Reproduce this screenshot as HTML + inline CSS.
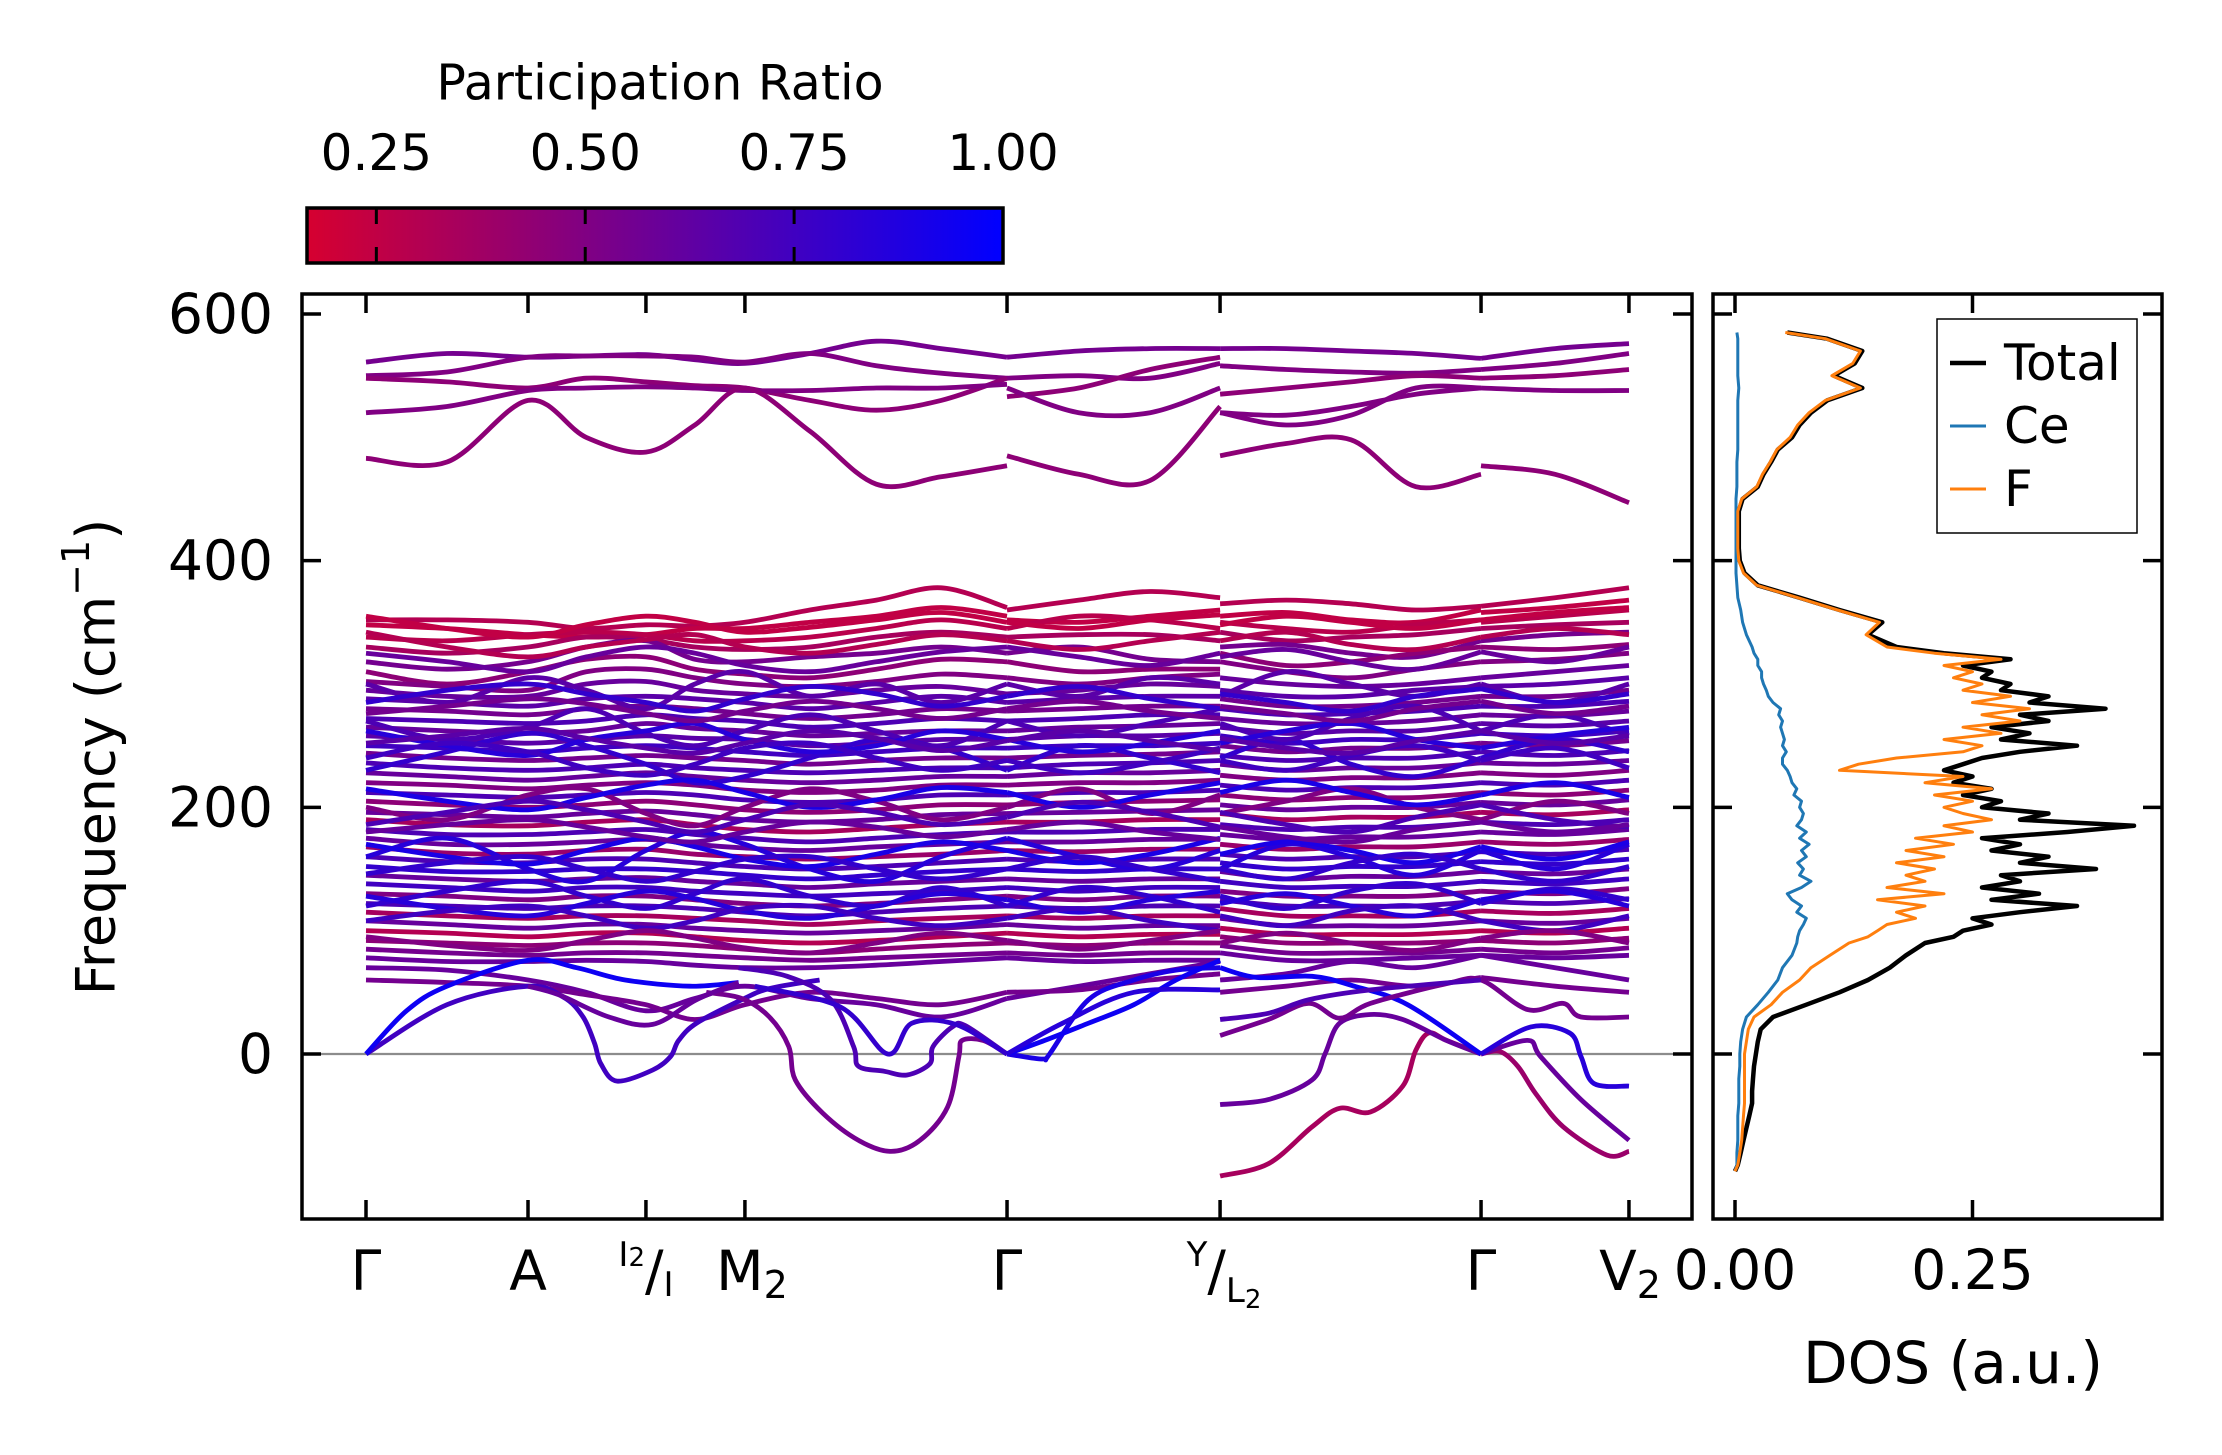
<!DOCTYPE html>
<html><head><meta charset="utf-8">
<style>
html,body{margin:0;padding:0;background:#fff;}
svg{display:block;font-family:"DejaVu Sans","Liberation Sans",sans-serif;}
</style></head>
<body>
<svg id="chart" width="2222" height="1455" viewBox="0 0 2222 1455" xmlns="http://www.w3.org/2000/svg">
<defs>
<linearGradient id="cmap" x1="0" x2="1" y1="0" y2="0">
<stop offset="0" stop-color="rgb(214,0,48)"/><stop offset="1" stop-color="rgb(0,0,255)"/>
</linearGradient>
<clipPath id="clipMain"><rect x="302" y="294" width="1390" height="925"/></clipPath>
<clipPath id="clipDos"><rect x="1713" y="294" width="449" height="925"/></clipPath>
</defs>
<rect x="0" y="0" width="2222" height="1455" fill="#fff"/>
<g id="colorbar">
<text x="660" y="83" font-size="49" text-anchor="middle" dominant-baseline="central">Participation Ratio</text>
<rect x="307" y="208" width="696" height="55" fill="url(#cmap)" stroke="#000" stroke-width="3.5"/>
</g>
<g id="bands" clip-path="url(#clipMain)"></g>
<g id="dos" clip-path="url(#clipDos)"></g>
<g id="axes"></g>
<text transform="translate(96,757) rotate(-90)" font-size="54" text-anchor="middle" dominant-baseline="central">Frequency (cm<tspan dy="-20" font-size="38">−1</tspan><tspan dy="20">)</tspan></text>
<text x="1953" y="1363" font-size="58" text-anchor="middle" dominant-baseline="central">DOS (a.u.)</text>
<g>
<rect x="1937" y="319" width="200" height="214" fill="#fff" stroke="#000" stroke-width="1.5"/>
<line x1="1950" y1="363" x2="1986" y2="363" stroke="#000" stroke-width="4.5"/>
<text x="2004" y="363" font-size="50" dominant-baseline="central">Total</text>
<line x1="1950" y1="426" x2="1986" y2="426" stroke="#1f77b4" stroke-width="3"/>
<text x="2004" y="426" font-size="50" dominant-baseline="central">Ce</text>
<line x1="1950" y1="489" x2="1986" y2="489" stroke="#ff7f0e" stroke-width="3"/>
<text x="2004" y="489" font-size="50" dominant-baseline="central">F</text>
</g>
<g font-size="55">
<text x="366" y="1290" text-anchor="middle">Γ</text>
<text x="528" y="1290" text-anchor="middle">A</text>
<text x="646" y="1290" text-anchor="middle"><tspan font-size="34" dy="-24">I</tspan><tspan font-size="26">2</tspan><tspan dy="24">/</tspan><tspan font-size="34" dy="6">I</tspan></text>
<text x="752" y="1290" text-anchor="middle">M<tspan font-size="38" dy="8">2</tspan></text>
<text x="1007" y="1290" text-anchor="middle">Γ</text>
<text x="1224" y="1290" text-anchor="middle"><tspan font-size="34" dy="-24">Y</tspan><tspan dy="24">/</tspan><tspan font-size="34" dy="12">L</tspan><tspan font-size="26" dy="6">2</tspan></text>
<text x="1481" y="1290" text-anchor="middle">Γ</text>
<text x="1630" y="1290" text-anchor="middle">V<tspan font-size="38" dy="8">2</tspan></text>
</g>
</svg>
<script>
const segK = [[0,0.5,1.0,1.36,1.728,2.03,2.339,2.74,3.15,3.55,3.957],[3.957,4.4,4.84,5.272],[5.272,5.68,6.08,6.48,6.883],[6.883,7.34,7.796]];
const tickK = [0,1,1.728,2.339,3.957,5.272,6.883,7.796];
const yTicks = [0,200,400,600];
const cbTicks = [0.25,0.5,0.75,1.0];
const cbTickLabels = ["0.25","0.50","0.75","1.00"];
const dosTicks = [0,0.25];
const dosTickLabels = ["0.00","0.25"];
const N = null;
const bandValues = [
[561,568,565,566,567,563,560,568,578,572,565, 565,570,572,572, 572,572,570,568,564, 564,572,576],
[550,553,565,566,566,565,561,568,558,552,548, 548,550,548,560, 558,555,553,552,555, 555,560,568],
[548,545,540,548,545,542,540,530,522,530,548, 533,540,555,565, 535,540,545,550,548, 548,550,555],
[520,525,538,540,541,540,538,538,540,540,543, 540,520,520,540, 520,518,525,535,540, 540,538,538],
[483,480,530,500,488,510,540,505,462,468,477, 485,470,465,525, 485,495,498,460,470, 477,470,447],
[N,N,N,N,N,N,N,N,N,N,N, N,N,N,N, 520,510,518,540,540, N,N,N],
[352,352,350,345,348,347,350,360,368,378,362, 360,368,375,370, 365,368,365,360,363, 363,370,378],
[348,345,340,338,340,345,345,350,355,362,355, 352,350,355,360, 355,358,352,350,360, 358,362,368],
[338,335,340,342,340,335,335,338,345,352,345, 345,355,352,345, 350,345,342,348,352, 350,355,360],
[330,325,330,338,336,330,328,330,338,342,338, 338,340,340,335, 342,335,338,340,345, 345,348,350],
[318,312,318,330,335,320,318,322,325,330,325, 325,330,320,318, 330,332,325,322,335, 335,340,342],
[310,300,310,320,322,312,308,305,312,320,318, 318,310,312,312, 325,315,318,325,330, 330,328,332],
[302,298,295,310,312,305,300,298,302,308,305, 305,300,305,308, 318,310,305,312,318, 318,320,325],
[295,290,290,300,302,295,292,290,295,298,292, 292,295,300,298, 305,300,298,300,305, 305,310,315],
[288,285,282,288,290,288,285,280,285,290,285, 285,288,290,290, 295,290,290,295,298, 298,300,305],
[280,278,275,280,282,280,276,272,275,280,278, 278,280,282,282, 288,282,282,285,290, 290,290,295],
[272,270,268,270,275,272,270,265,268,272,270, 270,272,275,275, 280,275,276,278,282, 282,282,286],
[265,262,260,262,268,264,262,258,260,262,262, 262,265,266,268, 272,268,268,270,275, 275,274,278],
[258,255,252,255,258,256,255,250,252,255,255, 255,258,258,260, 265,260,262,262,268, 268,266,270],
[250,248,245,248,250,248,245,242,245,248,248, 248,250,250,252, 258,252,255,255,260, 260,258,262],
[244,240,238,240,242,240,238,235,238,240,240, 240,242,243,245, 250,245,248,248,252, 252,250,254],
[236,232,230,232,235,232,230,228,230,232,232, 232,235,236,238, 242,238,240,240,245, 245,242,246],
[228,225,222,225,228,225,222,220,222,225,225, 225,228,228,230, 235,230,232,232,236, 236,235,238],
[220,218,215,218,220,218,214,212,214,218,218, 218,220,220,222, 226,222,224,224,228, 228,226,230],
[212,210,208,210,212,210,206,204,206,210,210, 210,212,212,214, 218,214,216,216,220, 220,218,222],
[205,202,200,202,205,202,198,196,198,202,202, 202,204,205,206, 210,206,208,208,212, 212,210,214],
[196,194,192,195,197,194,190,188,190,194,195, 195,196,197,198, 202,198,200,200,204, 204,202,206],
[190,186,185,188,190,186,182,180,183,186,188, 188,188,190,190, 195,190,192,192,196, 196,194,198],
[182,178,178,180,182,178,175,172,175,178,180, 180,180,182,182, 186,182,184,184,188, 188,186,190],
[175,170,170,172,174,170,167,165,168,170,172, 172,172,174,174, 178,174,176,176,180, 180,178,182],
[168,163,162,165,166,162,160,158,160,162,165, 165,164,166,166, 170,166,168,168,172, 172,170,174],
[160,156,155,158,158,155,152,150,152,155,158, 158,156,158,158, 162,158,160,160,164, 164,162,166],
[152,148,148,150,150,148,145,142,145,148,150, 150,148,150,150, 155,150,152,152,156, 156,154,158],
[145,142,140,142,143,140,138,135,138,140,142, 142,140,142,142, 148,142,144,144,148, 148,146,150],
[138,135,132,135,135,132,130,128,130,132,135, 135,132,135,135, 140,135,136,136,140, 140,138,142],
[130,128,125,128,128,125,122,120,122,125,128, 128,125,128,128, 132,128,128,128,132, 132,130,134],
[122,120,118,120,120,118,115,112,115,118,120, 120,118,120,120, 125,120,120,120,124, 124,122,126],
[115,112,110,112,112,110,108,105,108,110,112, 112,110,112,112, 118,112,112,112,116, 116,114,118],
[108,105,102,105,105,102,100,98,100,102,105, 105,102,104,104, 110,104,104,104,108, 108,106,110],
[100,98,95,98,98,95,92,90,92,95,98, 98,95,97,97, 102,97,97,97,100, 100,98,102],
[92,90,88,90,90,88,85,82,85,88,90, 90,88,90,90, 95,90,90,90,92, 92,90,94],
[85,82,80,82,82,80,78,76,78,80,82, 82,80,82,82, 88,82,82,82,85, 85,82,86],
[78,75,75,76,75,72,70,70,72,75,78, 78,75,76,76, 82,76,76,78,80, 80,78,80],
[230,245,260,250,235,220,225,240,255,248,230, 230,250,240,228, 240,255,235,225,240, 240,255,245],
[160,175,150,140,165,180,170,150,140,160,175, 175,160,150,165, 150,170,160,145,165, 165,150,170],
[300,285,305,295,280,300,310,290,300,285,300, 300,290,305,300, 290,310,300,290,300, 300,285,300],
[200,190,210,215,195,185,200,215,205,190,200, 200,215,195,210, 195,205,215,200,190, 190,205,195],
[270,255,265,280,260,250,262,275,262,250,270, 270,258,268,280, 268,255,272,282,262, 262,275,258],
[120,132,140,128,118,130,142,128,120,135,120, 120,135,128,115, 128,118,132,138,122, 122,134,125],
[70,68,60,50,35,45,55,45,40,30,45, 45,55,65,75, 60,65,75,70,80, 80,70,60],
[60,58,55,48,40,28,40,50,45,40,50, 50,52,60,65, 50,55,60,55,62, 62,55,50],
[325,318,310,322,330,325,315,310,318,326,330, 330,322,315,325, 322,328,318,312,326, 326,318,330],
[285,295,300,292,285,278,288,298,292,282,290, 290,298,288,280, 292,285,278,290,296, 296,285,292],
[262,250,242,255,262,268,255,245,250,262,255, 255,245,252,262, 252,262,268,255,248, 248,258,265],
[240,252,245,232,226,235,248,252,240,230,238, 238,228,236,248, 238,230,242,250,238, 238,248,232],
[215,205,198,208,218,222,212,200,206,216,212, 212,200,210,220, 212,222,212,202,210, 210,220,208],
[186,196,205,198,188,180,190,202,196,186,192, 192,204,196,184, 196,186,180,192,202, 202,190,184],
[170,160,154,165,175,168,158,152,162,172,165, 165,155,162,175, 162,172,165,155,168, 168,158,172],
[146,155,160,150,140,148,158,160,150,142,150, 150,160,150,140, 150,142,155,162,150, 150,140,152],
[128,118,112,122,132,126,116,110,120,130,125, 125,115,125,132, 122,130,120,112,125, 125,132,120],
[108,116,120,112,102,108,118,120,110,104,110, 110,118,108,100, 112,104,116,120,108, 108,100,112],
[95,88,84,92,100,94,86,82,90,98,92, 92,85,92,100, 90,98,90,84,94, 94,100,90],
[355,345,338,348,355,350,342,346,352,358,350, 350,345,352,356, 348,355,350,345,352, 352,358,362],
[342,330,322,330,336,340,330,325,332,340,335, 335,328,335,342, 335,342,332,328,338, 338,345,340],
[276,282,288,284,276,270,278,286,280,272,280, 280,286,278,272, 282,276,270,280,286, 286,276,282],
[252,258,264,256,248,244,252,262,256,246,254, 254,262,254,246, 256,248,244,254,262, 262,252,258],
[180,186,190,184,176,172,180,188,184,176,182, 182,188,180,174, 184,176,172,182,188, 188,180,186]
];
const bandPR = [0.55,0.5,0.45,0.5,0.45,0.5,
0.3,0.25,0.28,0.35,0.55,0.45,0.5,0.6,0.65,0.55,0.7,0.6,0.65,0.75,0.55,0.7,0.6,0.5,0.7,0.45,0.6,0.35,0.7,0.6,0.4,0.7,0.8,0.6,0.75,0.5,0.7,0.35,0.6,0.3,0.45,0.55,0.6,
0.8,0.85,0.65,0.5,0.7,0.8,0.6,0.55,
0.6,0.8,0.85,0.75,0.9,0.7,0.9,0.8,0.85,0.75,0.5,0.25,0.3,0.55,0.65,0.6];
const lowK = [
[0,0.5,1.0,1.22,1.34,1.41,1.45,1.55,1.77,1.88,1.93,2.04,2.32,2.49,2.8],
[0,0.25,0.5,1.0,1.3,1.6,2.0,2.3],
[2.1,2.32,2.49,2.61,2.65,2.82,3.04,3.24,3.42,3.59,3.66,3.68,3.81,3.957],
[2.3,2.6,2.87,3.01,3.04,3.2,3.34,3.48,3.5,3.62,3.7,3.957],
[2.4,2.93,3.22,3.37,3.64,3.957],
[1.0,1.19,1.5,1.77,2.04,2.3],
[3.957,4.1,4.19,4.22,4.46,4.74,5.0,5.272],
[3.957,4.19,4.46,4.74,5.0,5.272],
[3.957,4.3,4.74,5.272],
[5.272,5.57,5.84,6.01,6.2,6.4,6.48,6.56,6.67,6.883],
[5.272,5.57,5.84,5.92,6.01,6.2,6.4,6.67,6.883],
[5.272,5.5,5.84,6.1,6.43,6.883],
[5.272,5.57,5.82,6.01,6.2,6.67,6.883,7.17,7.39,7.5,7.796],
[5.272,5.57,5.82,6.2,6.883],
[6.883,7.0,7.11,7.22,7.39,7.66,7.796],
[6.883,7.17,7.25,7.5,7.796],
[6.883,7.19,7.43,7.5,7.58,7.796]
];
const lowF = [
[0,40,55,46,30,9,-8,-22,-13,-2,11,25,44,53,60],
[0,35,55,76,70,60,55,58],
[50,45,30,6,-21,-48,-70,-79,-70,-43,-2,11,11,0],
[70,63,44,6,-10,-14,-17,-8,6,22,23,0],
[55,38,0,25,24,0],
[55,48,30,24,44,58],
[0,-3,-4,0,44,60,68,70],
[0,11,25,40,60,76],
[0,25,50,52],
[-99,-89,-59,-44,-47,-26,3,17,11,0],
[-41,-37,-21,0,25,32,28,11,0],
[70,62,63,55,40,0],
[15,28,41,29,41,57,60,36,41,30,30],
[28,33,44,52,60],
[0,2,-10,-32,-59,-82,-79],
[0,11,-2,-37,-70],
[0,22,17,-2,-24,-26]
];
const lowPR = [0.75,0.95,0.55,0.7,0.8,0.6,0.9,0.95,0.85,0.35,0.6,0.95,0.55,0.7,0.4,0.6,0.85];
const dosFreq = [-95,-90,-80,-70,-60,-50,-40,-30,-20,-10,0,10,20,30,40,50,60,70,80,90,
95,100,105,110,115,120,125,130,135,140,145,150,155,160,165,170,175,180,185,190,195,200,205,210,215,220,225,230,235,240,245,250,255,260,265,270,275,280,285,290,295,300,305,310,315,320,325,330,
340,350,360,370,380,390,400,410,420,430,440,450,460,470,480,490,500,510,520,530,540,550,560,570,580,585];
const dosTotal = [0,.003,.006,.009,.012,.015,.018,.018,.019,.02,.022,.024,.027,.04,.075,.11,.14,.163,.18,.2,
.23,.24,.27,.25,.30,.36,.27,.32,.26,.30,.28,.38,.30,.33,.27,.30,.26,.35,.42,.30,.33,.26,.28,.24,.27,.23,.25,.22,.24,.26,.30,.36,.28,.31,.27,.33,.30,.39,.31,.33,.28,.29,.26,.27,.24,.29,.22,.17,
.14,.155,.11,.068,.024,.01,.005,.004,.004,.004,.004,.008,.024,.03,.038,.045,.06,.068,.08,.097,.134,.104,.126,.134,.097,.055];
const dosF = [0,.003,.005,.007,.008,.009,.01,.01,.01,.01,.01,.012,.014,.02,.038,.05,.068,.08,.1,.12,
.14,.15,.16,.19,.17,.20,.15,.22,.16,.20,.18,.21,.17,.22,.18,.23,.19,.25,.22,.27,.24,.22,.25,.21,.27,.20,.24,.11,.13,.17,.24,.26,.22,.28,.24,.30,.26,.31,.25,.29,.24,.26,.23,.25,.22,.28,.21,.16,
.138,.152,.108,.066,.023,.009,.004,.003,.003,.003,.003,.007,.023,.029,.037,.044,.058,.066,.078,.095,.132,.102,.124,.132,.095,.053];
const dosCe = [0,.002,.002,.003,.003,.003,.004,.004,.004,.005,.005,.006,.008,.012,.024,.035,.045,.05,.06,.065,
.066,.068,.072,.075,.065,.07,.06,.055,.07,.08,.068,.072,.066,.075,.07,.078,.068,.075,.065,.07,.072,.068,.07,.062,.065,.06,.058,.055,.05,.05,.054,.05,.052,.05,.048,.05,.046,.048,.04,.035,.033,.03,.028,.028,.024,.024,.02,.018,
.012,.008,.006,.003,.002,.001,.001,.001,.001,.001,.001,.001,.002,.002,.002,.003,.003,.003,.003,.003,.004,.003,.003,.003,.003,.002];

const NS = "http://www.w3.org/2000/svg";
const xk = k => 366 + 162*k;
const yf = v => 1054 - 1.2333*v;
const xd = d => 1735 + d*950;
const xcb = p => 307 + (p-0.167)/(1-0.167)*696;
function col(pr){const t=Math.max(0,Math.min(1,(pr-0.167)/(1-0.167)));return `rgb(${Math.round(214*(1-t))},0,${Math.round(48+207*t)})`;}
function smooth(pts){
  let d=`M${pts[0][0].toFixed(1)},${pts[0][1].toFixed(1)}`;
  for(let i=0;i<pts.length-1;i++){
    const p0=pts[i-1]||pts[i],p1=pts[i],p2=pts[i+1],p3=pts[i+2]||pts[i+1];
    const c1x=p1[0]+(p2[0]-p0[0])/6,c1y=p1[1]+(p2[1]-p0[1])/6;
    const c2x=p2[0]-(p3[0]-p1[0])/6,c2y=p2[1]-(p3[1]-p1[1])/6;
    d+=`C${c1x.toFixed(1)},${c1y.toFixed(1)} ${c2x.toFixed(1)},${c2y.toFixed(1)} ${p2[0].toFixed(1)},${p2[1].toFixed(1)}`;
  }
  return d;
}
function mk(tag,attrs,parent){const e=document.createElementNS(NS,tag);for(const a in attrs)e.setAttribute(a,attrs[a]);parent.appendChild(e);return e;}

const gB=document.getElementById('bands');
const zl=mk('line',{x1:302,x2:1692,y1:yf(0),y2:yf(0),stroke:'#8c8c8c','stroke-width':2.2},gB);


bandValues.forEach((vals,bi)=>{
  let off=0;
  segK.forEach((ks)=>{
    const seg=vals.slice(off,off+ks.length);off+=ks.length;
    if(seg.some(v=>v===null))return;
    const pts=ks.map((k,i)=>[xk(k),yf(seg[i])]);
    const p=mk('path',{d:smooth(pts),fill:'none',stroke:col(bandPR[bi]),'stroke-width':4.8,'stroke-linejoin':'round'},gB);
    
    
  });
});
lowK.forEach((ks,bi)=>{
  const pts=ks.map((k,i)=>[xk(k),yf(lowF[bi][i])]);
  const p=mk('path',{d:smooth(pts),fill:'none',stroke:col(lowPR[bi]),'stroke-width':4.8,'stroke-linejoin':'round'},gB);
  
  
});

const gD=document.getElementById('dos');
[[dosTotal,'#000',4.5,'dos-total-line'],[dosCe,'#1f77b4',3,'dos-ce-line'],[dosF,'#ff7f0e',3,'dos-f-line']].forEach(([arr,c,w,n])=>{
  const pts=dosFreq.map((f,i)=>`${xd(arr[i]).toFixed(1)},${yf(f).toFixed(1)}`).join(' ');
  const pl=mk('polyline',{points:pts,fill:'none',stroke:c,'stroke-width':w,'stroke-linejoin':'round'},gD);
  
  
});

const gA=document.getElementById('axes');
const f1=mk('rect',{x:302,y:294,width:1390,height:925,fill:'none',stroke:'#000','stroke-width':3.5},gA);


const f2=mk('rect',{x:1713,y:294,width:449,height:925,fill:'none',stroke:'#000','stroke-width':3.5},gA);


const TL=19;
yTicks.forEach(v=>{
  const y=yf(v);
  [[302,302+TL],[1692,1692-TL],[1713,1713+TL],[2162,2162-TL]].forEach(([a,b])=>{
    const t=mk('line',{x1:a,x2:b,y1:y,y2:y,stroke:'#000','stroke-width':3.5},gA);
    
    
  });
  const tx=mk('text',{x:273,y:y,'font-size':55,'text-anchor':'end','dominant-baseline':'central'},gA);
  
  
  tx.textContent=String(v);
});
tickK.forEach(k=>{
  const x=xk(k);
  [[1219,1219-TL],[294,294+TL]].forEach(([a,b])=>{
    const t=mk('line',{x1:x,x2:x,y1:a,y2:b,stroke:'#000','stroke-width':3.5},gA);
    
    
  });
});
dosTicks.forEach((d,i)=>{
  const x=xd(d);
  [[1219,1219-TL],[294,294+TL]].forEach(([a,b])=>{
    const t=mk('line',{x1:x,x2:x,y1:a,y2:b,stroke:'#000','stroke-width':3.5},gA);
    
    
  });
  const tx=mk('text',{x:x,y:1270,'font-size':55,'text-anchor':'middle','dominant-baseline':'central'},gA);
  
  
  tx.textContent=dosTickLabels[i];
});
cbTicks.forEach((p,i)=>{
  const x=xcb(p);
  if(p<1){
    const t1=mk('line',{x1:x,x2:x,y1:208,y2:224,stroke:'#000','stroke-width':3},gA);
    
    
    const t2=mk('line',{x1:x,x2:x,y1:247,y2:263,stroke:'#000','stroke-width':3},gA);
    
    
  }
  const tx=mk('text',{x:x,y:153,'font-size':50,'text-anchor':'middle','dominant-baseline':'central'},gA);
  
  
  tx.textContent=cbTickLabels[i];
});
</script>
</body></html>
